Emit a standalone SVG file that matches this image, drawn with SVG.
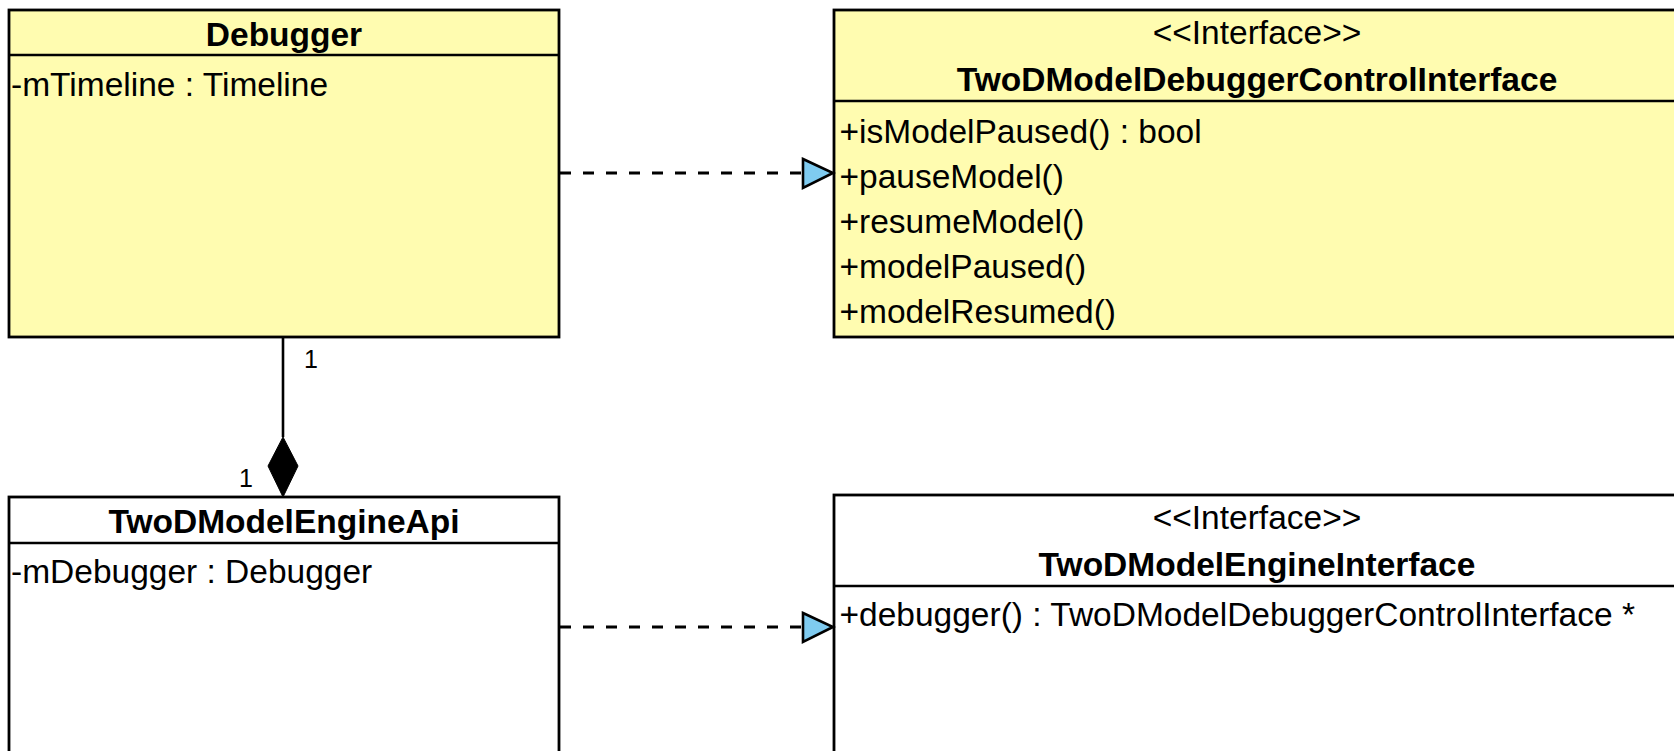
<svg xmlns="http://www.w3.org/2000/svg" width="1674" height="751" viewBox="0 0 1674 751">
  <style>
    .box { stroke: #000; stroke-width: 2.8; }
    .yellow { fill: #FFFCB0; }
    .white { fill: #FFFFFF; }
    .sep { stroke: #000; stroke-width: 2.6; }
    .t { font-family: "Liberation Sans", Arial, sans-serif; font-size: 33.5px; fill: #000; }
    .title { font-weight: bold; text-anchor: middle; }
    .stereo { text-anchor: middle; }
    .mult { font-family: "Liberation Sans", Arial, sans-serif; font-size: 25px; fill: #000; }
    .dash { stroke: #000; stroke-width: 2.8; stroke-dasharray: 11 12; fill: none; }
    .solid { stroke: #000; stroke-width: 2.6; fill: none; }
    .realize { fill: #7FCBF0; stroke: #000; stroke-width: 2.6; stroke-linejoin: miter; }
    .diamond { fill: #000; stroke: #000; stroke-width: 1; }
  </style>
  <rect width="1674" height="751" fill="#FFFFFF"/>

  <!-- Debugger class -->
  <g id="debugger">
    <rect class="box yellow" x="9" y="10" width="550" height="327"/>
    <line class="sep" x1="9" y1="55" x2="559" y2="55"/>
    <text class="t title" x="284" y="46">Debugger</text>
    <text class="t" x="11" y="96">-mTimeline : Timeline</text>
  </g>

  <!-- Debugger control interface -->
  <g id="debugger-control-interface">
    <rect class="box yellow" x="834" y="10" width="850" height="327"/>
    <line class="sep" x1="834" y1="101" x2="1684" y2="101"/>
    <text class="t stereo" x="1257" y="44">&lt;&lt;Interface&gt;&gt;</text>
    <text class="t title" x="1257" y="91">TwoDModelDebuggerControlInterface</text>
    <text class="t" x="839.5" y="143">+isModelPaused() : bool</text>
    <text class="t" x="839.5" y="187.5">+pauseModel()</text>
    <text class="t" x="839.5" y="232.5">+resumeModel()</text>
    <text class="t" x="839.5" y="277.5">+modelPaused()</text>
    <text class="t" x="839.5" y="322.5">+modelResumed()</text>
  </g>

  <!-- Engine API class -->
  <g id="engine-api">
    <rect class="box white" x="9" y="497" width="550" height="300"/>
    <line class="sep" x1="9" y1="543" x2="559" y2="543"/>
    <text class="t title" x="284" y="533">TwoDModelEngineApi</text>
    <text class="t" x="11" y="583">-mDebugger : Debugger</text>
  </g>

  <!-- Engine interface -->
  <g id="engine-interface">
    <rect class="box white" x="834" y="495" width="850" height="300"/>
    <line class="sep" x1="834" y1="586" x2="1684" y2="586"/>
    <text class="t stereo" x="1257" y="529">&lt;&lt;Interface&gt;&gt;</text>
    <text class="t title" x="1257" y="576">TwoDModelEngineInterface</text>
    <text class="t" x="839.5" y="626">+debugger() : TwoDModelDebuggerControlInterface *</text>
  </g>

  <!-- Connectors -->
  <g id="connectors">
    <!-- realization: Debugger to control interface -->
    <line class="dash" x1="560" y1="173" x2="803" y2="173"/>
    <polygon class="realize" points="803,159 833,173 803,188"/>
    <!-- realization: engine api to engine interface -->
    <line class="dash" x1="560" y1="627" x2="803" y2="627"/>
    <polygon class="realize" points="803,613 833,627 803,642"/>
    <!-- composition -->
    <line class="solid" x1="283" y1="338" x2="283" y2="437"/>
    <polygon class="diamond" points="283,437 298,466 283,497 268,466"/>
    <text class="mult" x="304" y="368">1</text>
    <text class="mult" x="239" y="487">1</text>
  </g>
</svg>
